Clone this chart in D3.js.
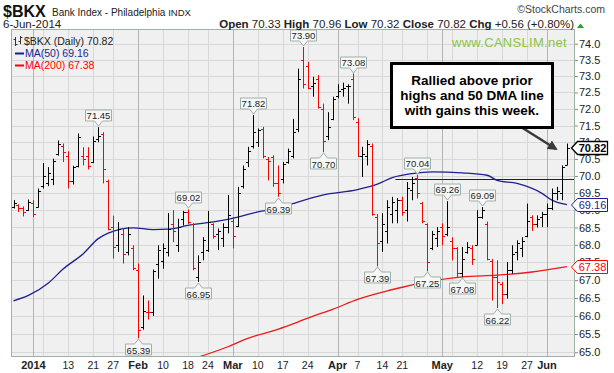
<!DOCTYPE html>
<html>
<head>
<meta charset="utf-8">
<script src="https://cdn.jsdelivr.net/npm/d3@7"></script>
<style>
  body { margin: 0; background: #fff; }
  svg { display: block; }
  text { font-family: "Liberation Sans", Arial, sans-serif; }
</style>
</head>
<body>
<script>
// trading calendar (weekdays minus market holidays)
var holidays = ["2013-12-25", "2014-01-01", "2014-01-20", "2014-02-17", "2014-04-18", "2014-05-26"];

// daily OHLC, 26-Dec-2013 .. 6-Jun-2014
var opens = [69.10, 69.15, 69.05, 69.00,
  69.20, 69.10, 69.70, 69.80, 69.90, 70.65, 70.90, 70.60, 69.85, 70.30, 70.60, 70.60, 70.40, 71.10, 71.25, 69.85, 68.50, 68.00, 68.30, 67.80, 67.90,
  67.30, 65.70, 66.10, 66.10, 67.45, 67.55, 67.80, 68.60, 68.00, 68.75, 68.95, 68.60, 67.10, 67.80, 67.85, 68.60, 68.30, 68.20, 68.50,
  68.70, 68.55, 69.70, 70.40, 70.90, 71.00, 71.40, 70.50, 70.55, 69.80, 69.90, 70.40, 70.60, 71.40, 73.50, 73.30, 72.70, 72.90, 72.00, 71.20, 71.70,
  72.40, 72.60, 72.70, 72.90, 71.60, 70.60, 70.60, 70.90, 68.80, 68.10, 68.40, 68.90, 69.00, 69.30, 69.00, 69.60, 69.95, 69.20, 68.60, 67.90, 68.20,
  68.50, 68.30, 68.10, 67.90, 67.20, 67.80, 67.90, 68.00, 68.80, 68.60, 67.55, 67.10, 66.90, 66.60, 67.30, 67.80, 67.90, 68.25, 68.80, 68.60, 68.80,
  68.90, 69.05, 69.50, 69.50, 70.33];
var highs = [69.29, 69.17, 69.11, 69.31,
  69.29, 69.63, 70.38, 70.26, 70.51, 71.05, 70.96, 70.73, 70.30, 71.26, 70.85, 70.85, 71.17, 71.45, 71.30, 69.89, 68.84, 68.66, 68.47, 68.51, 67.99,
  67.47, 66.57, 66.43, 67.30, 67.99, 68.04, 68.92, 69.00, 68.75, 68.98, 69.02, 68.62, 67.70, 68.22, 68.98, 68.62, 68.47, 68.62, 69.44,
  68.80, 69.68, 70.31, 70.86, 71.82, 71.41, 71.46, 70.56, 70.61, 70.31, 70.41, 70.81, 71.70, 73.23, 73.90, 73.44, 72.98, 73.03, 72.16, 71.90, 72.37,
  72.75, 72.80, 72.75, 73.08, 71.72, 70.86, 71.06, 70.96, 68.89, 68.91, 69.29, 69.39, 69.35, 69.39, 69.82, 69.97, 70.04, 69.24, 68.62, 68.40, 68.51,
  68.62, 69.26, 68.22, 67.94, 67.94, 68.08, 67.99, 69.00, 69.09, 68.67, 67.60, 67.56, 66.95, 67.51, 67.99, 68.13, 68.22, 69.19, 68.85, 68.85, 68.95,
  69.19, 69.63, 69.68, 70.31, 70.96];
var lows = [69.05, 68.95, 68.82, 68.98,
  68.80, 69.08, 69.63, 69.70, 69.73, 70.60, 70.41, 69.63, 69.75, 70.25, 70.31, 70.19, 70.38, 71.00, 69.78, 68.42, 67.61, 67.80, 67.47, 67.70, 67.28,
  65.39, 65.62, 65.90, 66.00, 67.04, 67.32, 67.67, 68.08, 67.80, 68.56, 68.60, 67.28, 66.95, 67.56, 67.80, 68.18, 67.85, 67.94, 68.33,
  67.90, 68.51, 69.63, 70.26, 70.81, 70.86, 70.52, 69.87, 69.68, 69.39, 69.78, 70.36, 70.52, 71.30, 72.62, 72.60, 72.37, 72.01, 70.70, 71.06, 71.66,
  72.32, 72.37, 72.16, 71.66, 70.56, 69.97, 70.31, 68.84, 67.39, 67.80, 68.04, 68.62, 68.62, 68.84, 68.67, 69.29, 69.34, 68.62, 67.25, 67.85, 67.94,
  67.99, 68.25, 67.56, 67.09, 67.08, 67.75, 67.43, 67.99, 68.75, 67.56, 66.43, 66.22, 66.33, 66.48, 67.18, 67.56, 67.65, 68.22, 68.40, 68.50, 68.51,
  68.51, 69.00, 69.29, 69.29, 70.32];
var closes = [69.20, 69.05, 68.95, 69.25,
  68.90, 69.55, 70.00, 70.10, 70.45, 70.95, 70.70, 69.85, 70.25, 71.15, 70.50, 70.30, 71.05, 71.20, 70.20, 68.45, 67.95, 68.45, 67.75, 68.30, 67.35,
  65.60, 66.15, 66.10, 67.25, 67.85, 67.90, 68.45, 68.40, 68.50, 68.95, 68.65, 67.35, 67.50, 68.15, 68.65, 68.25, 68.40, 68.50, 68.85,
  68.25, 69.50, 70.20, 70.75, 71.30, 71.35, 70.60, 70.45, 69.80, 69.50, 70.35, 70.75, 71.30, 72.90, 72.75, 72.65, 72.80, 72.05, 71.05, 71.45, 72.30,
  72.55, 72.65, 72.70, 71.75, 70.60, 70.65, 70.95, 68.90, 68.05, 68.60, 69.10, 69.25, 69.30, 68.95, 69.65, 69.80, 69.50, 68.70, 67.50, 68.30, 68.40,
  68.25, 68.50, 67.90, 67.20, 67.60, 67.95, 67.60, 68.80, 69.00, 67.60, 67.10, 66.95, 66.60, 67.30, 67.75, 68.05, 68.10, 68.70, 68.60, 68.75, 68.90,
  69.05, 69.50, 69.55, 70.26, 70.82];

// moving averages, read at points along each line
var ma50Dates = ["2013-12-26", "2013-12-31", "2014-01-07", "2014-01-10", "2014-01-16", "2014-01-22", "2014-01-24", "2014-01-31",
  "2014-02-06", "2014-02-11", "2014-02-18", "2014-02-26", "2014-03-04", "2014-03-10", "2014-03-14", "2014-03-19", "2014-03-27",
  "2014-04-07", "2014-04-11", "2014-04-16", "2014-04-23", "2014-04-29", "2014-05-07", "2014-05-14", "2014-05-16", "2014-05-22",
  "2014-05-30", "2014-06-03", "2014-06-06"];
var ma50Values = [66.42, 66.57, 66.92, 67.32, 67.75, 68.18, 68.34, 68.49,
  68.44, 68.45, 68.56, 68.68, 68.80, 68.95, 69.05, 69.19, 69.44,
  69.60, 69.76, 69.95, 70.07, 70.12, 70.09, 70.02, 69.87, 69.78,
  69.49, 69.29, 69.16];
var ma200Dates = ["2014-02-19", "2014-02-28", "2014-03-06", "2014-03-14", "2014-03-20", "2014-03-25", "2014-03-31", "2014-04-07",
  "2014-04-15", "2014-04-21", "2014-04-28", "2014-05-07", "2014-05-16", "2014-05-28", "2014-06-06"];
var ma200Values = [64.82, 65.15, 65.38, 65.63, 65.83, 65.99, 66.18, 66.46,
  66.70, 66.80, 66.95, 67.09, 67.14, 67.23, 67.38];

// swing high / low annotations
var noteDates = ["2014-01-22", "2014-02-03", "2014-02-18", "2014-02-20", "2014-03-07", "2014-03-14", "2014-03-21", "2014-03-27",
  "2014-04-04", "2014-04-11", "2014-04-24", "2014-04-28", "2014-05-02", "2014-05-07", "2014-05-13", "2014-05-16"];
var noteValues = [71.45, 65.39, 69.02, 66.95, 71.82, 69.39, 73.90, 70.70, 73.08, 67.39, 70.04, 67.25, 69.26, 67.08, 69.09, 66.22];
var noteSides = ["high", "low", "high", "low", "high", "low", "high", "low", "high", "low", "high", "low", "high", "low", "high", "low"];

// x axis
var tickDates = ["2014-01-02", "2014-01-06", "2014-01-13", "2014-01-21", "2014-01-27", "2014-02-03", "2014-02-10", "2014-02-18",
  "2014-02-24", "2014-03-03", "2014-03-10", "2014-03-17", "2014-03-24", "2014-04-01", "2014-04-07", "2014-04-14", "2014-04-21",
  "2014-04-28", "2014-05-01", "2014-05-05", "2014-05-12", "2014-05-19", "2014-05-27", "2014-06-02"];
var tickLabels = ["2014", "", "13", "21", "27", "Feb", "10", "18",
  "24", "Mar", "10", "17", "24", "Apr", "7", "14", "21",
  "", "May", "", "12", "19", "27", "Jun"];
var yTicks = d3.range(65, 74.01, 0.5);

var breakoutLevel = 69.9;
var breakoutFrom = "2014-04-17";

//helpers
var fmt = d3.timeFormat("%Y-%m-%d");
var days = d3.timeDay.range(new Date(2013, 11, 26), new Date(2014, 5, 7))
  .filter(function(d) { return d.getDay() % 6 !== 0 && holidays.indexOf(fmt(d)) < 0; })
  .map(fmt);

var bars = days.map(function(d, i) {
  return { date: d, o: opens[i], h: highs[i], l: lows[i], c: closes[i],
           up: i === 0 || closes[i] >= closes[i - 1] };
});

var W = 614, H = 373;
var frame = { left: 11, right: 575, top: 29, bottom: 357 };

var x = d3.scalePoint().domain(days).range([13.5, 566.9]);
var y = d3.scaleLog().domain([64.87, 74.46]).range([frame.bottom, frame.top]);
var px = function(d) { return Math.round(x(d)) + 0.5; };
var py = function(v) { return Math.round(y(v)) + 0.5; };

var svg = d3.select("body").append("svg").attr("width", W).attr("height", H);

svg.append("defs").append("clipPath").attr("id", "plot")
  .append("rect")
  .attr("x", frame.left).attr("y", frame.top)
  .attr("width", frame.right - frame.left).attr("height", frame.bottom - frame.top);

// plot background + grid
svg.append("rect")
  .attr("x", frame.left).attr("y", frame.top)
  .attr("width", frame.right - frame.left).attr("height", frame.bottom - frame.top)
  .attr("fill", "#f0f0f0");

svg.append("g").selectAll("line").data(yTicks).enter().append("line")
  .attr("x1", frame.left).attr("x2", frame.right)
  .attr("y1", function(d) { return py(d); }).attr("y2", function(d) { return py(d); })
  .attr("stroke", "#d8d8d8");

var isMonth = function(l) { return isNaN(+l) || l === "2014"; };
svg.append("g").selectAll("line").data(tickDates).enter().append("line")
  .attr("x1", function(d) { return px(d); }).attr("x2", function(d) { return px(d); })
  .attr("y1", frame.top).attr("y2", frame.bottom)
  .attr("stroke", function(d, i) { return tickLabels[i] !== "" && isMonth(tickLabels[i]) ? "#b4b4b4" : "#d8d8d8"; });

svg.append("g").selectAll("text").data(tickDates).enter().append("text")
  .attr("x", function(d) { return x(d); }).attr("y", 368.5)
  .attr("text-anchor", "middle")
  .attr("font-size", function(d, i) { return isMonth(tickLabels[i]) ? "11px" : "10.5px"; })
  .attr("font-weight", function(d, i) { return isMonth(tickLabels[i]) ? "bold" : "normal"; })
  .attr("fill", "#222")
  .text(function(d, i) { return tickLabels[i]; });

// right price axis
var axis = svg.append("g").attr("transform", "translate(" + frame.right + ",0)")
  .call(d3.axisRight(y).tickValues(yTicks).tickFormat(d3.format(".1f")).tickSize(3).tickPadding(1));
axis.select(".domain").remove();
axis.selectAll("line").attr("stroke", "#888");
axis.selectAll("text").attr("font-size", "11px").attr("fill", "#222")
  .attr("font-family", "'Liberation Sans', Arial, sans-serif");

var plot = svg.append("g").attr("clip-path", "url(#plot)");

// breakout reference line
plot.append("line")
  .attr("x1", x(breakoutFrom) - 2).attr("x2", frame.right)
  .attr("y1", py(breakoutLevel)).attr("y2", py(breakoutLevel))
  .attr("stroke", "#222").attr("stroke-width", 1);

// moving averages
var maLine = d3.line()
  .x(function(d) { return x(d[0]); })
  .y(function(d) { return y(d[1]); })
  .curve(d3.curveMonotoneX);
plot.append("path").datum(d3.zip(ma200Dates, ma200Values))
  .attr("d", maLine).attr("fill", "none").attr("stroke", "#f01818").attr("stroke-width", 1.3);
plot.append("path").datum(d3.zip(ma50Dates, ma50Values))
  .attr("d", maLine).attr("fill", "none").attr("stroke", "#1f1f8f").attr("stroke-width", 1.3);

// OHLC bars
var bar = plot.append("g").selectAll("g").data(bars).enter().append("g")
  .attr("stroke", function(d) { return d.up ? "#000" : "#ff0000"; })
  .attr("stroke-width", 1);
bar.append("line")
  .attr("x1", function(d) { return px(d.date); }).attr("x2", function(d) { return px(d.date); })
  .attr("y1", function(d) { return y(d.h); }).attr("y2", function(d) { return y(d.l); });
bar.append("line")
  .attr("x1", function(d) { return px(d.date) - 2.5; }).attr("x2", function(d) { return px(d.date); })
  .attr("y1", function(d) { return py(d.o); }).attr("y2", function(d) { return py(d.o); });
bar.append("line")
  .attr("x1", function(d) { return px(d.date); }).attr("x2", function(d) { return px(d.date) + 2.5; })
  .attr("y1", function(d) { return py(d.c); }).attr("y2", function(d) { return py(d.c); });

// high / low tags
var notes = svg.append("g").selectAll("g").data(noteDates).enter().append("g")
  .attr("transform", function(d, i) {
    return "translate(" + px(d) + "," + Math.round(y(noteValues[i])) + ")";
  });
notes.append("path")
  .attr("d", function(d, i) {
    var s = noteSides[i] === "high" ? -1 : 1;
    var bw = 13, tip = 1 * s, base = 6 * s, far = 17 * s;
    return "M0," + tip + "L4," + base + "H" + bw + "V" + far + "H" + (-bw) + "V" + base + "H-4Z";
  })
  .attr("fill", "#f7f7f7").attr("stroke", "#9fb0a6").attr("stroke-width", 1);
notes.append("text")
  .attr("x", 0)
  .attr("y", function(d, i) { return noteSides[i] === "high" ? -8.5 : 15.5; })
  .attr("text-anchor", "middle").attr("font-size", "9.5px").attr("fill", "#222")
  .text(function(d, i) { return noteValues[i].toFixed(2); });

// frame
svg.append("rect")
  .attr("x", frame.left + 0.5).attr("y", frame.top + 0.5)
  .attr("width", frame.right - frame.left - 1).attr("height", frame.bottom - frame.top - 1)
  .attr("fill", "none").attr("stroke", "#9fb0a6");

// value tags on the right axis
function valueTag(v, color, bold, sw) {
  var g = svg.append("g").attr("transform", "translate(0," + Math.round(y(v)) + ")");
  g.append("path").attr("d", "M571.5,0L577.5,-6.5H607.5V6.5H577.5Z")
    .attr("fill", "#fff").attr("stroke", color).attr("stroke-width", sw);
  g.append("text").attr("x", 592.5).attr("y", 4).attr("text-anchor", "middle")
    .attr("font-size", "11px").attr("font-weight", bold ? "bold" : "normal")
    .attr("fill", color).text(v.toFixed(2));
}
valueTag(ma200Values[ma200Values.length - 1], "#ff0000", false, 1);
valueTag(ma50Values[ma50Values.length - 1], "#1f1f8f", false, 1);
valueTag(closes[closes.length - 1], "#000", true, 1.3);

// legend
var last = bars[bars.length - 1];
svg.append("path").attr("d", "M15.5,37v9M13.5,39.5h2M15.5,44.5h2M20.5,36v8M18.5,41.5h2M20.5,37.5h2")
  .attr("stroke", "#333").attr("fill", "none");
var leg = svg.append("g").attr("font-family", "'DejaVu Sans', Verdana, sans-serif").attr("font-size", "10.5px");
leg.append("text").attr("x", 24).attr("y", 45).attr("fill", "#222")
  .text("$BKX (Daily) " + last.c.toFixed(2));
leg.append("line").attr("x1", 15).attr("x2", 24).attr("y1", 53.5).attr("y2", 53.5).attr("stroke", "#1f1f8f").attr("stroke-width", 2);
leg.append("text").attr("x", 25).attr("y", 57).attr("fill", "#1f1f8f")
  .text("MA(50) " + ma50Values[ma50Values.length - 1].toFixed(2));
leg.append("line").attr("x1", 15).attr("x2", 24).attr("y1", 65.5).attr("y2", 65.5).attr("stroke", "#ff0000").attr("stroke-width", 2);
leg.append("text").attr("x", 25).attr("y", 69).attr("fill", "#ff0000")
  .text("MA(200) " + ma200Values[ma200Values.length - 1].toFixed(2));

svg.append("text").attr("x", 567).attr("y", 47).attr("text-anchor", "end")
  .attr("font-size", "13px").attr("letter-spacing", "0.3px").attr("fill", "#8cc63e")
  .text("www.CANSLIM.net");

// header
svg.append("text").attr("x", 3).attr("y", 17).attr("font-size", "16px").attr("font-weight", "bold")
  .attr("fill", "#111").text("$BKX");
var sub = svg.append("text").attr("x", 52).attr("y", 16).attr("font-size", "10px").attr("fill", "#222");
sub.append("tspan").text("Bank Index - Philadelphia ");
sub.append("tspan").attr("font-size", "9.5px").text("INDX");
svg.append("text").attr("x", 605).attr("y", 13).attr("text-anchor", "end")
  .attr("font-size", "10.5px").attr("fill", "#444").text("\u00a9StockCharts.com");
svg.append("text").attr("x", 3).attr("y", 28).attr("font-size", "11.5px").attr("fill", "#222")
  .text("6-Jun-2014");

var chg = last.c - closes[closes.length - 2];
var quote = svg.append("text").attr("x", 574).attr("y", 28).attr("text-anchor", "end")
  .attr("font-size", "11.5px").attr("fill", "#222");
[["Open ", last.o.toFixed(2)], ["High ", last.h.toFixed(2)], ["Low ", last.l.toFixed(2)],
 ["Close ", last.c.toFixed(2)],
 ["Chg ", "+" + chg.toFixed(2) + " (+" + (chg / closes[closes.length - 2] * 100).toFixed(2) + "%)"]]
  .forEach(function(p, i) {
    quote.append("tspan").attr("font-weight", "bold").text((i ? " " : "") + p[0]);
    quote.append("tspan").text(p[1]);
  });
svg.append("path").attr("d", "M577,28L580.5,23.5L584,28Z").attr("fill", "#2a9d2a");

// callout
svg.append("defs").append("marker").attr("id", "head")
  .attr("viewBox", "0 0 10 10").attr("refX", 8).attr("refY", 5)
  .attr("markerWidth", 4).attr("markerHeight", 4).attr("orient", "auto")
  .append("path").attr("d", "M0,0L10,5L0,10Z").attr("fill", "#3a3a3a");
svg.append("line").attr("x1", 521).attr("y1", 127).attr("x2", 556).attr("y2", 149)
  .attr("stroke", "#3a3a3a").attr("stroke-width", 2.5).attr("marker-end", "url(#head)");
svg.append("rect").attr("x", 391.5).attr("y", 63.5).attr("width", 161).attr("height", 64)
  .attr("fill", "#fff").attr("stroke", "#000").attr("stroke-width", 3);
var callout = ["Rallied above prior", "highs and 50 DMA line", "with gains this week."];
svg.append("g").selectAll("text").data(callout).enter().append("text")
  .attr("x", 472).attr("y", function(d, i) { return 85 + i * 15; })
  .attr("text-anchor", "middle").attr("font-size", "13.5px").attr("font-weight", "bold").attr("fill", "#000")
  .text(function(d) { return d; });
</script>
</body>
</html>
